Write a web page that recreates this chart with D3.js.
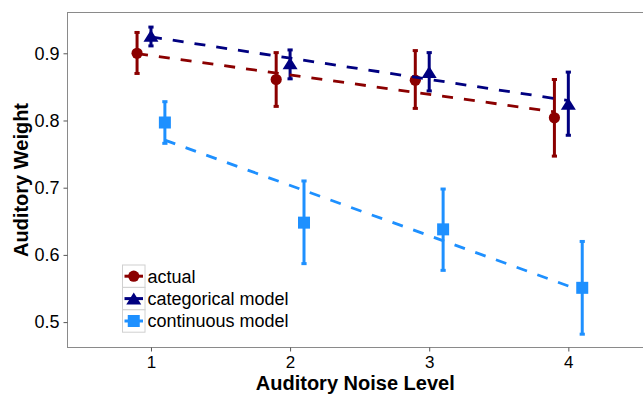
<!DOCTYPE html>
<html>
<head>
<meta charset="utf-8">
<script src="https://cdn.jsdelivr.net/npm/d3@7"></script>
<style>
  html, body { margin: 0; padding: 0; background: #fff; }
  svg { display: block; font-family: "Liberation Sans", Arial, sans-serif; }
</style>
</head>
<body>
<svg id="chart" width="643" height="396"></svg>
<script>
// data
const levels = [1, 2, 3, 4];
const seriesNames = ['actual', 'categorical model', 'continuous model'];
const seriesColors = ['#8b0000', '#000080', '#1e90ff'];
const seriesShapes = ['circle', 'triangle', 'square'];
const dodge = [-0.1, 0, 0.1];
const actualMean = [0.900, 0.861, 0.860, 0.804];
const actualLo   = [0.870, 0.821, 0.818, 0.747];
const actualHi   = [0.931, 0.901, 0.904, 0.861];
const catMean = [0.926, 0.885, 0.872, 0.825];
const catLo   = [0.911, 0.862, 0.844, 0.778];
const catHi   = [0.939, 0.905, 0.901, 0.872];
const contMean = [0.797, 0.648, 0.638, 0.551];
const contLo   = [0.766, 0.587, 0.577, 0.482];
const contHi   = [0.828, 0.710, 0.698, 0.620];
const xTicks = [1, 2, 3, 4];
const yTicks = [0.5, 0.6, 0.7, 0.8, 0.9];

const means = [actualMean, catMean, contMean];
const los = [actualLo, catLo, contLo];
const his = [actualHi, catHi, contHi];

const svg = d3.select('#chart');
const P = { left: 67.5, top: 12.5, bottom: 347.5 };
const x = d3.scaleLinear().domain([0.4, 4.6]).range([P.left, 651.8]);
const y = d3.scaleLinear().domain([0.4622, 0.9607]).range([P.bottom, P.top]);

// panel border (right edge falls off canvas)
svg.append('rect')
  .attr('x', P.left).attr('y', P.top)
  .attr('width', x(4.6) - P.left).attr('height', P.bottom - P.top)
  .attr('fill', 'none').attr('stroke', '#8a8a8a').attr('stroke-width', 1);

// axes
const yAxis = svg.append('g').attr('transform', `translate(${P.left},0)`)
  .call(d3.axisLeft(y).tickValues(yTicks).tickFormat(d3.format('.1f')).tickSize(4).tickPadding(4));
const xAxis = svg.append('g').attr('transform', `translate(0,${P.bottom})`)
  .call(d3.axisBottom(x).tickValues(xTicks).tickFormat(d3.format('d')).tickSize(4).tickPadding(4));
[yAxis, xAxis].forEach(g => {
  g.select('.domain').remove();
  g.selectAll('line').attr('stroke', '#555');
  g.selectAll('text').attr('fill', '#000');
});
yAxis.selectAll('text').style('font-size', '18px');
xAxis.selectAll('text').style('font-size', '17px');

// axis titles
svg.append('text').attr('x', (P.left + 643) / 2).attr('y', 389.5)
  .attr('text-anchor', 'middle').style('font-size', '20px').style('font-weight', 'bold')
  .text('Auditory Noise Level');
svg.append('text').attr('transform', `translate(28,${(P.top + P.bottom) / 2}) rotate(-90)`)
  .attr('text-anchor', 'middle').style('font-size', '20px').style('font-weight', 'bold')
  .text('Auditory Weight');

// point shape drawing
function drawShape(g, shape, cx, cy, color) {
  if (shape === 'circle') {
    g.append('circle').attr('cx', cx).attr('cy', cy).attr('r', 5.6).attr('fill', color);
  } else if (shape === 'square') {
    g.append('rect').attr('x', cx - 6).attr('y', cy - 6).attr('width', 12).attr('height', 12).attr('fill', color);
  } else {
    const w = 15, h = 12;
    g.append('path').attr('d', `M${cx},${cy - h / 2}L${cx + w / 2},${cy + h / 2}L${cx - w / 2},${cy + h / 2}Z`).attr('fill', color);
  }
}

// error bars
const gErr = svg.append('g');
seriesNames.forEach((name, s) => {
  levels.forEach((lv, i) => {
    const cx = x(lv + dodge[s]);
    gErr.append('line').attr('x1', cx).attr('x2', cx).attr('y1', y(los[s][i])).attr('y2', y(his[s][i]))
      .attr('stroke', seriesColors[s]).attr('stroke-width', 3);
    [los[s][i], his[s][i]].forEach(v => {
      gErr.append('line').attr('x1', cx - 2.6).attr('x2', cx + 2.6).attr('y1', y(v)).attr('y2', y(v))
        .attr('stroke', seriesColors[s]).attr('stroke-width', 3);
    });
  });
});

// points
const gPts = svg.append('g');
seriesNames.forEach((name, s) => {
  levels.forEach((lv, i) => drawShape(gPts, seriesShapes[s], x(lv + dodge[s]), y(means[s][i]), seriesColors[s]));
});

// linear fits (dashed)
const gFit = svg.append('g');
seriesNames.forEach((name, s) => {
  const xs = levels.map(lv => lv + dodge[s]);
  const mx = d3.mean(xs), my = d3.mean(means[s]);
  const slope = d3.sum(xs, (v, i) => (v - mx) * (means[s][i] - my)) / d3.sum(xs, v => (v - mx) ** 2);
  const ends = [xs[0], xs[xs.length - 1]];
  gFit.append('path')
    .attr('d', d3.line().x(v => x(v)).y(v => y(my + slope * (v - mx)))(ends))
    .attr('fill', 'none').attr('stroke', seriesColors[s]).attr('stroke-width', 2.8)
    .attr('stroke-dasharray', '11,11');
});

// legend
const L = { x: 122.5, y: 265, w: 22.5, h: 22.4 };
const gLeg = svg.append('g');
seriesNames.forEach((name, s) => {
  const ky = L.y + s * L.h;
  gLeg.append('rect').attr('x', L.x).attr('y', ky).attr('width', L.w).attr('height', L.h)
    .attr('fill', '#fff').attr('stroke', '#d0d0d0').attr('stroke-width', 1);
  const cx = L.x + L.w / 2, cy = ky + L.h / 2;
  gLeg.append('line').attr('x1', L.x + 2).attr('x2', L.x + L.w - 2).attr('y1', cy).attr('y2', cy)
    .attr('stroke', seriesColors[s]).attr('stroke-width', 3);
  drawShape(gLeg, seriesShapes[s], cx, cy, seriesColors[s]);
  gLeg.append('text').attr('x', 147.5).attr('y', cy + 6.3)
    .style('font-size', '18px').attr('fill', '#000').text(name);
});
</script>
</body>
</html>
